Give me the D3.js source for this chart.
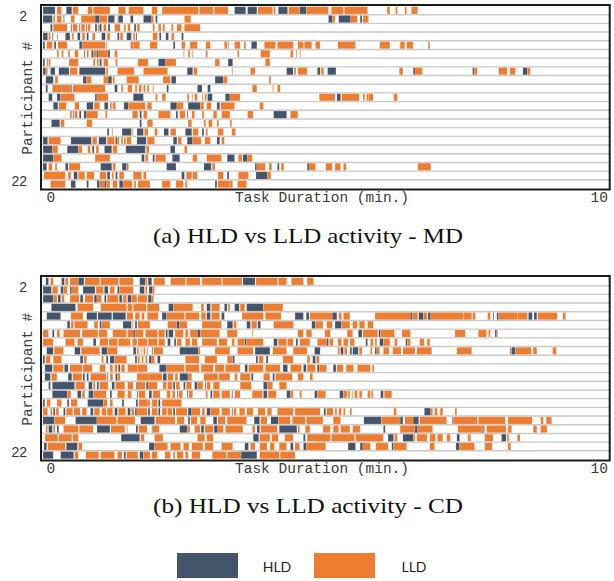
<!DOCTYPE html>
<html lang="en">
<head>
<meta charset="UTF-8">
<title>HLD vs LLD activity</title>
<script src="https://d3js.org/d3.v7.min.js"></script>
<style>
  body { margin: 0; background: #fff; }
  svg { display: block; }
  .mono { font-family: "Liberation Mono", "DejaVu Sans Mono", monospace; font-size: 14.5px; fill: #3a3a3a; }
  .ylab { font-family: "Liberation Sans", Arial, sans-serif; font-size: 14px; fill: #333; }
  .caption { font-family: "Liberation Serif", "DejaVu Serif", serif; font-size: 22px; fill: #111; }
  .legend-text { font-family: Lato, "Open Sans", sans-serif; font-size: 14px; fill: #222; }
</style>
</head>
<body>
<svg id="chart" width="614" height="581"></svg>
<script>
// participants 2..22, one row each
const participants = d3.range(2, 23);
const yTicks = [2, 22];
const xTicks = [0, 10];
const kinds = ["HLD", "LLD"];
const kindColors = ["#44546a", "#ed7d31"];

// activity segments per participant, in seconds from task start (H = HLD, L = LLD)
const mdRows = [
  "H0,13 L15,20 H25,31 L32,38 L48,53 L54,72 L81,89 L92,108 L117,123 L128,167 L168,183 L184,199 H206,218 H220,230 L231,247 L248,250 H253,263 L264,276 H276,283 L283,307 L310,323 L324,349 L370,373 L379,381 L389,391 L396,403",
  "H0,10 L11,13 L15,20 H22,23 L30,34 L41,56 H56,61 L61,69 H70,77 L80,81 H81,86 H94,97 H108,117 L117,119 H121,123 L152,159 H307,311 L311,314 H318,331 L331,338 H341,343 L344,350",
  "H8,10 L11,26 H30,31 L32,37 H39,40 L41,45 H46,47 L48,51 H56,58 L59,61 H61,63 L65,68 H70,72 L77,83 L87,89 L91,94 H98,100 L101,104 L118,120 L124,127 L129,131 L138,140 L144,149 L152,169",
  "H0,5 L6,8 H10,11 L15,16 H24,29 L31,33 H37,40 L42,45 H47,49 L53,56 H63,67 L69,72 H80,82 L83,86 H90,95 L97,99 H100,101 L118,123 H125,127 H132,135 L138,141 H149,151",
  "H0,2 L4,10 H12,14 L16,26 H39,42 L42,67 L68,69 L94,97 L97,104 L115,123 H140,142 L149,153 L158,166 L175,180 L195,198 L199,200 L206,212 L216,218 H224,230 L238,250 L252,269 L274,280 L281,289 L293,298 L317,336 L362,373 L384,389 L391,398 L414,416",
  "L15,17 L20,22 L27,29 L34,38 H44,45 L47,49 H52,54 L54,58 H58,60 L60,70 H70,72 L77,80 L151,152 L156,158 L160,161 L175,177 L209,211 L234,244 L266,269 L272,273 L276,277",
  "H0,2 H4,5 L6,8 L28,38 L54,56 L58,60 H61,63 L65,70 L78,80 L102,113 H124,132 L132,143 L185,190 H199,204 L239,244",
  "H0,3 L3,5 H8,13 H17,28 L29,37 H39,67 L68,70 L80,98 L108,134 H155,161 L162,166 L203,204 L223,228 H262,269 L270,272 L274,284 H295,298 L299,302 H306,315 L383,387 H398,400 L400,408 H462,464 L464,467 L490,499 L502,508 H516,521 L521,524",
  "H3,11 L13,16 H43,47 L47,52 L65,70 H70,74 L75,77 L90,103 L129,137 H138,143 H185,194 L194,198 L243,245",
  "H3,5 L10,30 H30,31 L32,67 H77,80 L84,86 L91,96 L99,101 L103,106 L108,110 L112,114 L118,119 H133,135 H166,171 H177,180 L225,230 L247,248 L252,255",
  "H6,10 H15,19 L19,34 H56,58 L58,70 H97,108 L121,123 L128,132 L155,157 L160,161 L163,166 L171,172 L174,176 H177,182 H196,201 L201,212 L297,314 H316,320 L321,340 L344,346 L348,350 L350,355 L377,381",
  "H11,16 L17,25 L34,39 H47,54 L55,61 H66,70 L72,74 L75,78 H87,92 L92,110 L112,117 H137,144 L144,151 H156,169 L169,173 L176,181 H187,190 L191,206 L233,237",
  "L29,31 H32,33 L34,37 H39,41 H44,47 L47,59 L67,69 L96,102 H104,106 L108,112 L124,137 H143,145 L147,153 H155,156 L160,163 L171,173 L183,187 L192,201 L220,226 H248,262 L266,274",
  "H9,18 L19,23 L47,53 H104,106 L112,118 L156,160 L173,175 L178,182 L187,189 L201,203",
  "H69,71 L74,75 H85,95 L96,97 H101,108 L109,113 L120,123 H130,135 L137,143 H153,160 L161,167 H171,173 L175,177 L188,194 L203,207",
  "H0,5 L6,19 H30,52 L53,58 H60,68 L69,77 H78,80 L80,82 L84,86 L87,89 L90,95 H101,111 L112,120 H140,144 L145,149 H155,161 L161,170 L174,180 H187,190 L192,195",
  "H0,10 L10,16 H26,38 L38,42 L48,51 H53,55 L57,60 H66,74 L75,80 H89,110 L111,114 H137,142 L152,155",
  "H0,11 L11,20 L56,72 H106,109 L110,113 H118,120 L121,132 H139,147 L161,166 L176,192 H198,206 L210,214 H215,220 L220,225",
  "H0,4 L6,10 L13,15 H24,27 L28,40 H62,74 L75,78 H85,90 L90,92 H133,143 H173,181 L182,185 H228,230 L230,239 L243,246 H252,254 L256,259 H284,286 L286,293 L304,311 L314,320 L323,326 L403,417",
  "L1,24 L27,30 H33,37 L38,45 L47,55 L61,68 H69,72 L74,76 H78,80 L82,87 L97,106 L108,111 H149,152 L154,160 L161,166 L188,194 H198,200 L210,221 H229,241 L241,245",
  "L8,24 H30,35 H47,49 H58,61 L61,66 H66,68 L68,72 L75,80 H82,86 L86,96 L98,100 L102,115 L128,137 L143,151 L153,155 H185,187 L188,201 L201,204 L209,219"
];

const cdRows = [
  "H3,6 L8,11 H20,23 L24,27 L29,38 H38,44 L45,61 L62,81 L82,97 H104,110 L110,112 H113,117 L119,131 L137,153 L154,169 L171,192 L193,214 H215,228 L229,252 L253,262 L267,280 L284,291",
  "H0,9 L10,16 H19,22 L22,26 H29,31 L31,38 H43,56 L57,65 H66,70 L72,77 H80,82 L82,97 H104,109 L110,112 H114,118 L118,120",
  "H0,11 L11,15 H16,19 L20,23 L29,39 H40,43 L45,54 H55,58 L58,63 H66,68 L69,81 H82,85 L86,90 H91,95 L95,101 L102,112 H113,117 L117,119",
  "H9,35 L37,54 L62,90 L91,96 L97,111 L112,125 H135,140 L140,161 L170,173 H176,180 L181,190 H195,198 L199,201 H206,211 L212,217 H219,237 L237,258",
  "H4,19 L30,43 H47,58 H59,74 H75,89 L90,97 L99,104 L106,109 L112,124 H128,133 L133,152 L153,168 L170,175 H176,180 L181,190 H192,195 L214,237 L239,256 H271,280 H283,286 L287,311 H311,316 L318,321 L323,330 L357,395 H395,397 L397,403 H404,409 L409,413 H414,417 L417,452 L452,461 L462,465 L478,481 H484,485 H488,490 L490,510 L510,521 H522,526 H528,531 L532,553 L559,562",
  "H26,29 L30,33 L34,48 L55,59 H61,63 L63,72 H86,95 L96,97 H99,101 L102,115 L134,144 H144,147 L147,155 L171,192 H198,204 L205,208 H219,223 L224,230 H231,234 L248,269 H289,293 L293,301 L305,311 H314,321 L321,330 L333,338 L340,346 L349,355",
  "L0,6 H10,12 L15,18 L22,40 L42,59 L60,69 L75,90 L91,97 H97,99 L99,108 L110,123 L124,131 H132,134 H135,140 L142,151 L153,156 L158,166 H166,169 L169,190 L198,209 L225,226 L274,280 L283,289 L303,309 L327,333 H339,343 L344,360 H361,363 L363,378 L386,395 L443,454 L468,477 L479,481 H486,488 L488,489",
  "L0,11 L24,34 L37,43 H54,57 L61,70 L71,80 L81,94 L96,101 L102,112 L113,123 L124,131 H134,137 H141,143 L144,149 L153,158 L160,166 L171,187 L189,198 L203,206 L209,217 H217,219 L219,237 H248,252 L253,262 L263,269 H272,274 L276,287 L295,305 H305,307 L308,312 L317,321 L323,328 L330,335 H347,349 L352,355 L357,359 H362,366 L366,373 L378,381 H390,392 L392,395 L405,410 L413,416",
  "H4,11 L12,22 H34,40 L41,61 H63,69 L69,80 H97,100 L101,103 L105,106 L108,110 L112,113 H117,118 L119,129 H147,167 L167,169 L185,201 L209,226 H228,244 L247,262 L269,284 H292,298 L317,319 H320,323 L324,327 H330,332 H333,339 L340,343 L352,354 H357,359 L359,362 L366,372 L376,385 L387,400 L402,418 L445,461 L502,504 H504,508 L508,525 L527,531 L548,552",
  "H0,2 L3,8 L11,20 H40,43 L44,47 L63,65 H68,70 H72,77 L77,90 H99,101 L102,104 L106,108 L110,112 H114,117 L117,120 H123,126 L153,168 L174,187 L198,204 H204,206 H229,231 L232,237 H240,242 L258,269 L284,287 H290,293 L294,297",
  "H2,10 L11,22 H23,27 L29,42 L43,53 L61,67 L72,75 L77,80 H81,83 L84,88 L91,102 L102,112 H125,133 L133,152 L153,168 L170,183 L185,195 L196,212 H217,220 L221,237 L239,255 H258,263 L266,278 H280,283 L284,293 H295,297 L297,305 H312,315 L316,323 L326,334 L338,352 L354,356",
  "H2,8 L9,15 H27,31 L32,42 H43,45 H47,49 L51,68 H69,70 L72,75 H78,80 L80,83 L101,114 L114,128 H129,133 L134,140 L142,145 H147,156 L156,160 L173,188 L189,201 L206,209 L212,223 H224,226 L237,244 H247,249 L250,268 L274,280 L287,290",
  "H6,8 H10,34 L35,45 H49,53 L54,56 H58,60 L61,70 H74,77 L78,88 L91,97 H100,101 L101,110 H111,113 L113,123 L129,133 L134,139 H140,142 L143,147 H151,153 L154,160 H163,166 L166,172 H174,175 L176,180 L183,190 L212,224 H237,241 L241,247 L254,262",
  "H10,26 L26,30 H37,41 L42,45 H49,54 L54,68 H72,74 L80,88 L91,95 H101,102 L103,110 H114,117 L118,126 L133,137 L139,142 H144,145 L146,150 H155,156 L157,161 L175,177 H180,182 L183,190 L192,201 H203,204 L206,212 L225,236 H237,241 L242,251 H262,266 L266,269 L276,278 H292,295 L295,304 H319,323 L323,327 L328,330 L332,333 L335,338 L340,343 L349,352 L353,355 H363,366 L367,375",
  "H0,2 L4,8 L15,20 H26,28 L30,37 H48,65 L65,69 L72,75 H85,87 H100,102 L103,112 L112,115 H117,118 L118,123 H124,126 L128,149",
  "L0,5 L8,10 H11,13 L14,17 H22,24 L25,32 L33,40 L42,47 H51,54 L55,61 L63,68 L69,75 H77,80 L81,89 H91,94 L95,98 H99,101 L101,112 H113,115 L117,123 H124,126 L128,133 L134,139 H140,142 L143,155 H156,160 L160,169 L171,174 H176,180 L180,190 L192,201 H203,204 L205,208 L211,217 L219,226 L231,239 L241,246 L252,269 L271,298 H302,304 L305,312 L314,316 L318,321 L323,325 L330,332 L377,380 H410,417 L417,419 L421,424 L427,430 L443,445",
  "H0,12 L12,24 H35,58 L58,79 L80,99 H105,120 L121,142 L144,152 H156,158 L159,166 L169,175 H183,187 L188,196 L198,219 H227,233 L234,241 H245,253 L253,266 L268,282 L283,301 L312,320 H345,364 L364,384 H384,387 L389,398 H398,404 L405,434 H440,441 L441,467 L468,497 L500,526 L535,538 L541,547",
  "L3,5 H6,10 L11,13 H15,17 L22,38 L39,54 H58,72 L73,88 L90,91 H100,102 L103,112 H117,118 L118,125 H147,155 L155,158 L163,169 H170,173 L174,183 H184,188 L188,194 L196,215 L225,228 H230,233 L234,252 H254,273 L274,276 L282,287 L301,309 L312,318 L320,330 L333,341 H366,368 L384,400 H400,403 L403,419 L446,472 H472,473 L473,475 L477,498 L500,504 L527,531 L535,542",
  "L2,16 L17,31 L32,38 H84,104 L105,109 L120,129 L166,174 L176,183 H226,232 L233,244 L246,253 L260,269 H280,282 L284,309 L310,335 L336,366 H371,377 L378,381 H387,398 L398,400 L402,413 L416,422 L424,430 L434,438 H445,448 L457,460 L475,484 H493,498 L499,501 L510,513",
  "H1,4 L5,24 H25,37 L38,42 H114,120 L120,134 L137,148 L151,157 L160,172 L174,183 L192,204 H217,221 L223,228 L233,241 L244,249 L254,262 H266,269 L271,276 H280,283 L283,304 H328,336 H341,344 L344,352 L358,371 H375,377 L377,391 L416,421 H444,448 L448,464 L475,483 L500,503",
  "H0,11 H19,33 L34,38 L46,60 L62,77 L80,85 H87,89 L90,102 H104,108 L108,115 L117,123 L131,137 L140,142 L144,151 L153,156 L160,169 L182,197 L198,213 H213,230 L233,254 L255,271"
];

const captions = ["(a) HLD vs LLD activity - MD", "(b) HLD vs LLD activity - CD"];

// turn "H0,13 L15,20 ..." into segment objects (minutes)
function parseRow(str, participant) {
  return Array.from(str.matchAll(/([HL])(\d+),(\d+)/g), m => ({
    participant: participant,
    kind: m[1] === "H" ? "HLD" : "LLD",
    start: +m[2] / 60,
    end: +m[3] / 60
  }));
}

const svg = d3.select("#chart");
const color = d3.scaleOrdinal().domain(kinds).range(kindColors);
const x = d3.scaleLinear().domain([0, 10]).range([43, 601]);
const frameLeft = 41, frameRight = 609.7;

const panels = [
  { rows: mdRows, top: 5, bottom: 189.5, caption: captions[0], capY: 243 },
  { rows: cdRows, top: 276, bottom: 460.5, caption: captions[1], capY: 513 }
];

panels.forEach(p => {
  const g = svg.append("g");
  const segs = p.rows.flatMap((r, i) => parseRow(r, participants[i]));

  const y = d3.scaleBand()
    .domain(participants)
    .range([p.top + 1, p.bottom - 1]);

  // row separators
  g.selectAll(".sep")
    .data(participants.slice(1))
    .enter().append("line")
    .attr("x1", frameLeft).attr("x2", frameRight)
    .attr("y1", d => y(d)).attr("y2", d => y(d))
    .attr("stroke", "#c9c9c9")
    .attr("stroke-width", 1.4);

  g.selectAll(".seg")
    .data(segs)
    .enter().append("rect")
    .attr("x", d => x(d.start))
    .attr("y", d => y(d.participant) + 0.7)
    .attr("width", d => Math.max(0.8, x(d.end) - x(d.start)))
    .attr("height", y.bandwidth() - 1.4)
    .attr("fill", d => color(d.kind))
    .attr("stroke", "rgba(255,255,255,0.45)")
    .attr("stroke-width", 0.4);

  // frame
  g.append("rect")
    .attr("x", frameLeft).attr("y", p.top)
    .attr("width", frameRight - frameLeft).attr("height", p.bottom - p.top)
    .attr("fill", "none")
    .attr("stroke", "#1a1a1a")
    .attr("stroke-width", 2);

  // y labels (first and last participant)
  const ly = d3.scaleLinear().domain([2, 22]).range([p.top + 11.5, p.bottom - 8]);
  g.selectAll(".ylab")
    .data(yTicks)
    .enter().append("text")
    .attr("class", "ylab")
    .attr("x", 27)
    .attr("y", d => ly(d))
    .attr("dy", "0.35em")
    .attr("text-anchor", "end")
    .text(d => d);

  g.append("text")
    .attr("class", "mono")
    .attr("transform", `translate(32,${(p.top + p.bottom) / 2 + 1}) rotate(-90)`)
    .attr("text-anchor", "middle")
    .text("Participant #");

  // x axis labels
  const axis = g.append("g")
    .attr("transform", `translate(0,${p.bottom})`)
    .call(d3.axisBottom(x).tickValues(xTicks).tickSize(0).tickPadding(0));
  axis.select(".domain").remove();
  axis.attr("font-family", null).attr("font-size", null);
  axis.selectAll("text")
    .attr("class", "mono")
    .attr("y", 12.5)
    .attr("dy", 0)
    .attr("text-anchor", (d, i) => i === 0 ? "start" : "end")
    .attr("x", (d, i) => i === 0 ? 3 : 6.5)
    .attr("fill", null);

  g.append("text")
    .attr("class", "mono")
    .attr("x", x(5))
    .attr("y", p.bottom + 12.5)
    .attr("text-anchor", "middle")
    .text("Task Duration (min.)");

  g.append("text")
    .attr("class", "caption")
    .attr("x", 308)
    .attr("y", p.capY)
    .attr("text-anchor", "middle")
    .attr("textLength", 310)
    .attr("lengthAdjust", "spacingAndGlyphs")
    .text(p.caption);
});

// legend
const legend = svg.append("g");
const legendX = [177, 314];
kinds.forEach((k, i) => {
  legend.append("rect")
    .attr("x", legendX[i]).attr("y", 553)
    .attr("width", 61).attr("height", 25)
    .attr("fill", color(k));
  legend.append("text")
    .attr("class", "legend-text")
    .attr("x", legendX[i] + 100)
    .attr("y", 572)
    .attr("text-anchor", "middle")
    .text(k);
});
</script>
</body>
</html>
